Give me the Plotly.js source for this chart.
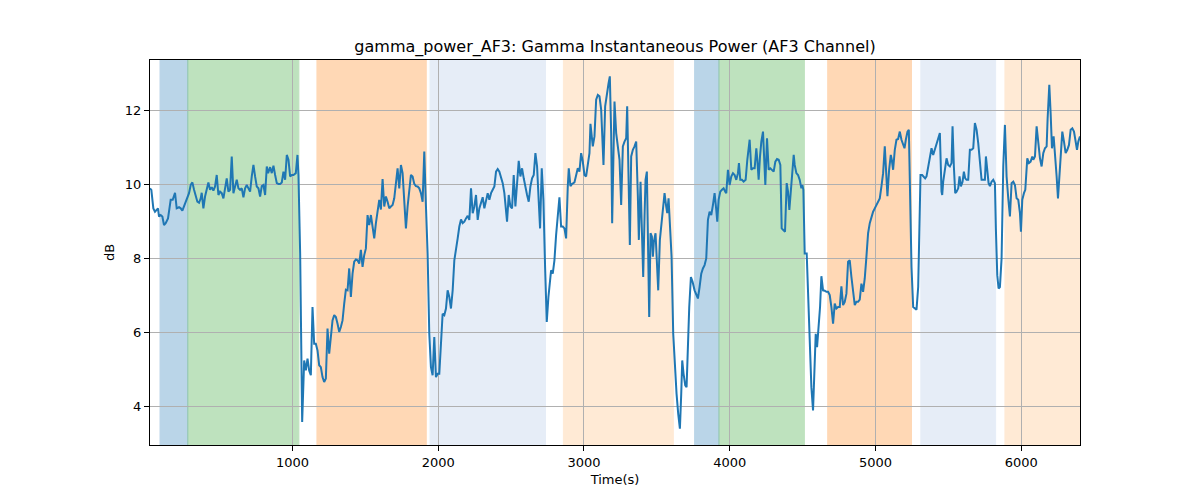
<!DOCTYPE html>
<html>
<head>
<meta charset="utf-8">
<script src="https://cdn.plot.ly/plotly-3.0.1.min.js"></script>
<style>
  html, body { margin: 0; padding: 0; background: #fff; }
  #chart { width: 1200px; height: 500px; }
</style>
</head>
<body>
<div id="chart"></div>
<script>
// time axis (s) and gamma power (dB)
const timeS = [
  22.7, 31.9, 45.6, 57.0, 68.5, 77.6, 84.5, 96.0, 107.4, 118.8, 130.3, 146.3, 164.6, 178.4, 194.4, 205.8,
  221.8, 233.3, 244.7, 256.2, 267.6, 279.1, 290.5, 302.0, 313.4, 324.9, 336.3, 347.7, 359.2, 370.6, 377.5,
  388.9, 400.4, 411.8, 423.3, 434.7, 446.2, 457.6, 469.1, 480.5, 492.0, 503.4, 514.8, 526.3, 537.7, 549.2,
  560.6, 572.1, 583.5, 595.0, 606.4, 617.8, 629.3, 640.7, 652.2, 663.6, 675.1, 686.5, 698.0, 709.4, 720.9,
  732.3, 743.7, 755.2, 766.6, 778.1, 789.5, 801.0, 812.4, 823.9, 833.0, 846.7, 858.2, 869.6, 881.1, 892.5,
  904.0, 915.4, 926.9, 938.3, 949.7, 961.2, 972.6, 984.1, 995.5, 1007.0, 1023.0, 1034.4, 1041.3, 1052.8,
  1066.6, 1080.4, 1091.8, 1103.3, 1114.7, 1126.2, 1137.6, 1149.0, 1160.5, 1171.9, 1183.4, 1194.8, 1206.3,
  1217.7, 1229.2, 1240.6, 1252.1, 1263.5, 1274.9, 1286.4, 1297.8, 1309.3, 1320.7, 1332.2, 1343.6, 1355.1,
  1366.5, 1378.0, 1389.4, 1400.8, 1412.3, 1423.7, 1435.2, 1446.6, 1458.1, 1469.5, 1480.9, 1492.4, 1503.8,
  1515.3, 1526.7, 1538.2, 1549.6, 1561.1, 1572.5, 1584.0, 1595.4, 1606.8, 1618.3, 1629.7, 1641.2, 1652.6,
  1664.1, 1675.5, 1687.0, 1698.4, 1709.8, 1721.3, 1732.7, 1744.2, 1755.6, 1767.1, 1778.5, 1790.0, 1801.4,
  1812.9, 1824.3, 1835.7, 1847.2, 1858.6, 1870.1, 1881.5, 1893.0, 1904.4, 1915.9, 1927.3, 1938.7, 1950.2,
  1961.6, 1973.1, 1984.5, 1996.0, 2007.4, 2018.9, 2030.3, 2041.8, 2053.2, 2064.6, 2076.1, 2087.5,
  2099.1, 2110.6, 2122.0, 2133.5, 2144.9, 2156.4, 2167.8, 2179.2, 2190.7, 2202.1, 2213.6, 2225.0, 2236.5,
  2247.9, 2259.4, 2270.8, 2282.2, 2293.7, 2305.1, 2316.6, 2328.0, 2339.5, 2350.9, 2362.4, 2373.8, 2385.3,
  2396.7, 2408.1, 2419.6, 2431.0, 2442.5, 2453.9, 2465.4, 2472.2, 2483.7, 2495.1, 2506.6, 2518.0, 2529.5,
  2540.9, 2552.3, 2563.8, 2575.2, 2586.7, 2598.1, 2609.6, 2621.0, 2632.5, 2643.9, 2655.4, 2666.8, 2678.2,
  2689.7, 2698.8, 2710.3, 2721.7, 2733.2, 2744.6, 2756.1, 2767.5, 2774.4, 2785.8, 2797.3, 2808.7, 2820.2,
  2831.6, 2843.1, 2854.5, 2866.0, 2877.4, 2888.8, 2895.7, 2907.1, 2918.6, 2934.6, 2946.1, 2957.5, 2969.0,
  2980.4, 2991.9, 3003.3, 3014.7, 3026.2, 3037.6, 3044.5, 3053.6, 3060.5, 3072.0,
  3083.5, 3095.0, 3106.4, 3117.9, 3133.9, 3145.3, 3156.8, 3168.2, 3177.4, 3186.5, 3193.4, 3202.6, 3209.4,
  3220.9, 3232.3, 3243.8, 3255.2, 3266.7, 3278.1, 3289.6, 3296.4, 3305.6, 3314.7, 3323.9, 3335.4, 3346.8,
  3358.2, 3369.7, 3376.5, 3388.0, 3397.1, 3406.3, 3415.5, 3422.3, 3431.5, 3438.3, 3447.5, 3456.6, 3465.8,
  3472.7, 3479.5, 3491.0, 3500.1, 3509.3, 3520.7, 3529.9, 3541.3, 3552.8, 3564.2, 3571.1, 3580.3, 3589.4,
  3600.9, 3612.3, 3623.8, 3635.2, 3646.6, 3658.1, 3667.2, 3674.1, 3683.3, 3694.7, 3703.9, 3713.0, 3722.2,
  3733.6, 3745.1, 3758.8, 3770.2, 3781.7, 3793.1, 3804.6, 3816.0, 3827.5, 3838.9, 3850.4, 3861.8, 3873.3,
  3884.7, 3896.1, 3907.6, 3914.5, 3923.6, 3935.1, 3946.5, 3958.0, 3969.4, 3976.3, 3987.7, 3999.2, 4010.6,
  4022.0, 4033.5, 4044.9, 4056.4, 4063.2, 4072.4, 4083.8, 4095.3,
  4109.2, 4120.6, 4136.6, 4148.1, 4159.5, 4171.0, 4182.4, 4189.3, 4198.4, 4207.6, 4216.8, 4228.2, 4235.1,
  4244.2, 4255.7, 4267.1, 4278.6, 4290.0, 4301.4, 4312.9, 4324.3, 4335.8, 4347.2, 4356.4, 4367.8, 4379.3,
  4390.7, 4399.9, 4409.0, 4418.2, 4429.6, 4438.8, 4445.7, 4457.1, 4468.5, 4480.0, 4491.4, 4498.3, 4505.2,
  4514.3, 4528.0, 4537.2, 4548.6, 4560.1, 4571.5, 4583.0, 4589.9, 4599.0, 4610.5, 4619.6, 4628.8, 4640.2,
  4651.7, 4663.1, 4674.6, 4686.0, 4697.4, 4708.9, 4720.3, 4731.8, 4743.2, 4754.7, 4766.1, 4777.6, 4789.0,
  4800.5, 4811.9, 4823.3, 4834.8, 4846.2, 4857.7, 4869.1, 4880.6, 4892.0, 4903.5, 4914.9, 4926.3, 4937.8,
  4949.2, 4960.7, 4972.1, 4983.6, 4995.0, 5006.5, 5017.9, 5029.3, 5040.8, 5052.2, 5063.7, 5075.1, 5082.0,
  5093.4, 5104.9, 5111.7, 5120.9, 5132.4, 5143.8, 5155.2, 5166.7, 5178.1, 5189.6,
  5199.0, 5208.1, 5219.5, 5228.7, 5235.6, 5247.0, 5258.5, 5269.9, 5281.4, 5292.8, 5299.7, 5308.8, 5320.3,
  5331.7, 5340.9, 5350.0, 5361.5, 5372.9, 5384.4, 5395.8, 5407.2, 5418.7, 5430.1, 5441.6, 5453.0, 5457.6,
  5464.5, 5475.9, 5487.4, 5498.8, 5510.3, 5521.7, 5528.6, 5537.7, 5546.9, 5556.0, 5567.5, 5576.6, 5585.8,
  5597.2, 5606.4, 5615.5, 5624.7, 5636.1, 5647.6, 5659.0, 5670.5, 5681.9, 5693.4, 5704.8, 5716.3, 5727.7,
  5739.2, 5750.6, 5757.5, 5766.6, 5775.8, 5784.9, 5796.4, 5807.8, 5819.3, 5826.1, 5835.3, 5844.4, 5853.6,
  5865.0, 5876.5, 5887.9, 5899.4, 5910.8, 5922.3, 5933.7, 5945.2, 5956.6, 5968.1, 5979.5, 5991.0, 5997.8,
  6007.0, 6018.4, 6027.6, 6041.3, 6052.7, 6064.2, 6075.6, 6082.5, 6094.0, 6105.4, 6116.9, 6128.3, 6139.7,
  6151.2, 6162.6, 6174.1, 6180.9, 6192.4, 6201.5, 6210.7, 6222.1, 6231.3, 6242.7, 6251.9, 6261.0, 6272.5,
  6281.6, 6293.1, 6304.5, 6316.0, 6327.4, 6338.9, 6350.3, 6361.8, 6373.2, 6382.4, 6391.5, 6403.0
]
const gammaDb = [
  9.89, 9.85, 9.35, 9.26, 9.31, 9.35, 9.13, 9.17, 9.13, 8.90, 8.95, 9.08, 9.58, 9.58, 9.77, 9.35,
  9.38, 9.35, 9.29, 9.40, 9.53, 9.65, 9.76, 9.98, 10.05, 9.85, 9.67, 9.53, 9.50, 9.62, 9.77,
  9.35, 9.67, 9.85, 10.05, 9.85, 9.92, 9.83, 9.94, 10.25, 9.71, 9.80, 9.76, 9.62, 9.94, 10.16,
  9.80, 9.85, 10.75, 9.76, 9.94, 10.12, 9.89, 9.85, 9.89, 9.65, 9.89, 9.98, 9.89, 9.80, 10.21,
  10.52, 10.21, 9.94, 9.89, 9.67, 9.95, 9.98, 9.71, 10.48, 10.30, 10.46, 10.30, 10.50, 10.25, 10.03,
  10.01, 10.01, 10.05, 10.34, 10.12, 10.79, 10.66, 10.21, 10.25, 10.25, 10.30, 10.79, 10.25, 8.14,
  3.59, 5.25, 4.98, 5.30, 4.98, 4.85, 6.69, 5.70, 5.70, 5.52, 5.12, 5.07, 4.80,
  4.67, 4.76, 6.11, 5.43, 5.84, 6.33, 6.47, 6.42, 6.24, 6.02, 6.15, 6.33, 6.78,
  7.16, 7.14, 7.73, 6.96, 7.59, 7.91, 7.97, 7.95, 7.86, 8.23, 7.77, 8.09, 8.27,
  9.17, 8.90, 9.17, 8.90, 8.54, 8.95, 9.31, 9.58, 9.32, 10.14, 9.40, 9.67, 9.53,
  9.35, 9.40, 9.44, 9.62, 10.03, 10.43, 9.89, 10.52, 10.30, 9.58, 8.81, 9.40, 9.89,
  10.25, 10.21, 10.01, 9.95, 9.94, 9.89, 9.76, 9.53, 10.88, 9.40, 8.13, 5.97, 5.07,
  4.85, 5.88, 4.80, 4.89, 4.89, 5.88, 6.51, 6.47, 6.65, 7.14, 6.96, 6.65,
  7.14, 7.95, 8.31, 8.54, 8.86, 9.05, 8.95, 8.99, 9.08, 9.15, 9.04, 9.89, 9.22,
  9.40, 9.71, 9.04, 9.35, 9.49, 9.65, 9.35, 9.53, 9.76, 9.58, 9.76, 9.85, 9.94,
  10.34, 10.41, 10.34, 10.21, 10.03, 9.76, 9.22, 8.99, 9.71, 9.40, 9.35, 10.25, 9.40,
  10.16, 10.63, 10.21, 10.43, 10.16, 9.89, 9.71, 9.53, 9.94, 10.16, 10.25, 10.84, 10.48,
  9.53, 8.81, 10.43, 9.58, 7.77, 6.29, 6.96, 7.32, 7.68, 7.59, 7.95, 8.63, 9.22,
  9.65, 8.86, 8.86, 8.81, 8.54, 9.94, 10.43, 9.95, 10.01, 10.05, 10.21, 10.43, 10.34,
  10.84, 10.61, 10.25, 10.21, 10.48, 10.84, 11.63, 11.20, 11.02, 11.29,
  12.28, 12.41, 12.37, 12.01, 10.52, 12.10, 12.46, 12.71, 12.91, 11.38, 8.95, 10.66, 12.23,
  11.38, 11.02, 10.66, 9.44, 11.02, 11.15, 11.24, 12.10, 10.39, 8.36, 10.75, 10.93, 11.02,
  11.15, 9.67, 8.50, 10.07, 8.45, 7.50, 9.13, 10.12, 10.34, 8.31, 6.42, 8.68, 8.59,
  8.05, 8.45, 8.68, 7.95, 7.14, 8.50, 8.86, 9.26, 9.76, 9.40, 9.22, 9.62, 9.04,
  8.05, 5.97, 5.03, 4.35, 3.81, 3.41, 4.35, 5.25, 4.89, 4.58, 4.53, 5.70, 6.69,
  7.50, 7.37, 7.14, 7.01, 6.92, 7.23, 7.59, 7.73, 7.82, 8.00, 9.04, 9.26, 9.17,
  9.44, 9.76, 9.31, 8.99, 9.58, 9.80, 9.85, 9.89, 9.80, 9.76, 10.39, 9.98, 10.21,
  10.30, 10.25, 10.12, 10.30, 10.57, 10.12, 10.12, 10.07,
  10.12, 10.66, 11.20, 10.39, 10.43, 10.43, 10.97, 10.66, 10.12, 10.75, 11.15, 11.42, 10.84,
  9.98, 11.24, 10.39, 10.43, 10.39, 10.34, 10.61, 10.68, 10.66, 10.52, 8.81, 8.75, 8.72,
  10.03, 9.80, 9.31, 9.85, 10.48, 10.79, 10.52, 10.30, 10.25, 10.12, 9.89, 9.98, 9.85,
  8.13, 8.13, 7.05, 5.61, 4.53, 3.90, 5.25, 5.97, 5.61, 6.24, 6.69, 7.52, 7.14,
  7.13, 7.10, 7.10, 7.01, 6.69, 6.24, 6.78, 6.65, 6.69, 6.69, 7.25, 6.74, 6.83,
  7.05, 7.91, 7.95, 7.50, 7.05, 6.74, 6.83, 6.83, 6.89, 7.32, 7.10, 7.46, 8.05,
  8.68, 8.95, 9.13, 9.26, 9.35, 9.44, 9.49, 9.62, 9.94, 10.30, 11.02, 10.30, 9.68,
  10.39, 10.79, 10.66, 10.39, 10.93, 11.20, 11.22, 11.42, 11.20, 11.06,
  10.97, 11.20, 11.42, 11.47, 10.03, 7.77, 6.69, 6.65, 6.62, 7.23, 8.86, 10.25, 10.25,
  10.21, 10.16, 10.21, 10.48, 10.79, 10.97, 10.79, 10.93, 11.06, 11.24, 11.38, 9.80, 9.71,
  10.07, 10.39, 10.70, 10.52, 10.48, 10.57, 11.56, 10.48, 9.76, 9.80, 9.89, 10.21, 9.94,
  10.07, 10.34, 10.16, 10.12, 10.12, 10.93, 10.93, 10.97, 11.65, 11.47, 11.11, 10.66, 10.12,
  10.12, 10.12, 10.75, 10.30, 10.03, 9.95, 10.07, 10.12, 10.03, 8.77, 7.55, 7.19, 7.23,
  8.00, 10.48, 11.60, 10.21, 9.62, 9.13, 10.03, 10.07, 9.98, 9.62, 9.58, 9.22, 8.72,
  9.58, 9.76, 9.85, 10.70, 10.57, 10.61, 10.75, 10.66, 10.75, 11.56, 11.02, 10.70, 10.48,
  10.84, 10.97, 11.02, 11.78, 12.68, 11.92, 10.97, 11.29, 10.88, 10.21, 9.62, 10.21, 10.84,
  11.42, 11.15, 10.84, 10.93, 11.06, 11.47, 11.51, 11.42, 11.20, 10.93, 11.15, 11.29
]

// shaded phases (start, end, colour)
const spanStart = [91.5, 282, 1168, 1944, 2859, 3759, 3926, 4672, 5311, 5888]
const spanEnd = [282, 1044, 1918, 2736, 3613, 3926, 4512, 5247, 5824, 6403]
const spanColor = ['#1f77b4', '#2ca02c', '#ff7f0e', '#aec7e8', '#ffbb78',
  '#1f77b4', '#2ca02c', '#ff7f0e', '#aec7e8', '#ffbb78']

const shapes = spanStart.map((s, i) => ({
  type: 'rect', xref: 'x', yref: 'paper',
  x0: s, x1: spanEnd[i], y0: 0, y1: 1,
  fillcolor: spanColor[i], opacity: 0.3,
  line: { color: spanColor[i], width: 1 },
  layer: 'between'
}))

const trace = {
  x: timeS, y: gammaDb,
  type: 'scatter', mode: 'lines',
  line: { color: '#1f77b4', width: 2 },
  hoverinfo: 'skip'
}

const axisStyle = {
  showline: true, mirror: true, linecolor: '#000', linewidth: 1,
  ticks: 'outside', ticklen: 5, tickcolor: '#000', tickwidth: 1,
  showgrid: true, gridcolor: '#b0b0b0', gridwidth: 1,
  zeroline: false,
  tickfont: { family: 'DejaVu Sans', size: 13, color: '#000' }
}

const layout = {
  width: 1200, height: 500,
  margin: { l: 150, r: 120, t: 60, b: 55 },
  paper_bgcolor: '#fff', plot_bgcolor: '#fff',
  font: { family: 'DejaVu Sans', color: '#000' },
  showlegend: false,
  title: {
    text: 'gamma_power_AF3: Gamma Instantaneous Power (AF3 Channel)',
    font: { family: 'DejaVu Sans', size: 16, color: '#000' },
    x: 0.5125, xanchor: 'center', yref: 'container', y: 0.908, yanchor: 'middle'
  },
  xaxis: Object.assign({}, axisStyle, {
    range: [22.7, 6403], tickvals: [1000, 2000, 3000, 4000, 5000, 6000],
    title: { text: 'Time(s)', font: { family: 'DejaVu Sans', size: 13, color: '#000' }, standoff: 6 }
  }),
  yaxis: Object.assign({}, axisStyle, {
    range: [2.97, 13.35], tickvals: [4, 6, 8, 10, 12],
    title: { text: 'dB', font: { family: 'DejaVu Sans', size: 13, color: '#000' }, standoff: 7 }
  }),
  shapes: shapes
}

Plotly.newPlot('chart', [trace], layout, { displayModeBar: false, staticPlot: true })
</script>
</body>
</html>
